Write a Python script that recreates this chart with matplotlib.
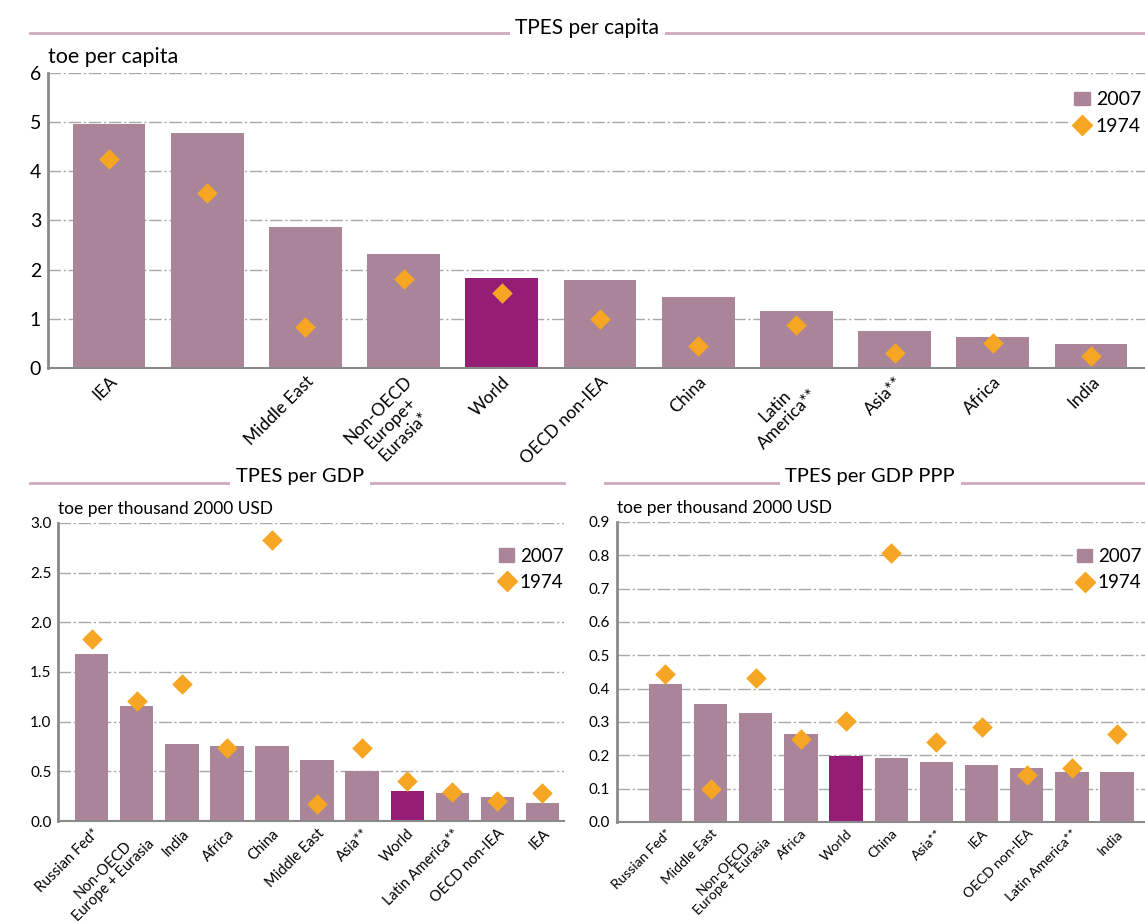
import matplotlib.pyplot as plt
from matplotlib.lines import Line2D
from matplotlib.patches import Patch
import numpy as np

plt.rcParams['font.family'] = ['Lato', 'DejaVu Sans']

# TPES per capita (toe per capita)
cap_labels = ['IEA', '', 'Middle East', 'Non-OECD\nEurope+\nEurasia*', 'World', 'OECD non-IEA',
              'China', 'Latin\nAmerica**', 'Asia**', 'Africa', 'India']
cap_2007 = [4.95, 4.78, 2.86, 2.31, 1.82, 1.78, 1.45, 1.16, 0.76, 0.63, 0.49]
cap_1974 = [4.24, 3.55, 0.84, 1.80, 1.53, 1.00, 0.45, 0.88, 0.31, 0.51, 0.25]

# TPES per GDP (toe per thousand 2000 USD)
gdp_labels = ['Russian Fed*', 'Non-OECD\nEurope + Eurasia', 'India', 'Africa', 'China', 'Middle East',
              'Asia**', 'World', 'Latin America**', 'OECD non-IEA', 'IEA']
gdp_2007 = [1.68, 1.16, 0.78, 0.76, 0.76, 0.61, 0.50, 0.30, 0.28, 0.24, 0.18]
gdp_1974 = [1.83, 1.21, 1.38, 0.74, 2.83, 0.17, 0.74, 0.40, 0.29, 0.20, 0.28]

# TPES per GDP PPP (toe per thousand 2000 USD)
ppp_labels = ['Russian Fed*', 'Middle East', 'Non-OECD\nEurope + Eurasia', 'Africa', 'World', 'China',
              'Asia**', 'IEA', 'OECD non-IEA', 'Latin America**', 'India']
ppp_2007 = [0.415, 0.354, 0.327, 0.264, 0.198, 0.192, 0.180, 0.171, 0.162, 0.150, 0.150]
ppp_1974 = [0.444, 0.100, 0.432, 0.250, 0.303, 0.807, 0.240, 0.285, 0.141, 0.162, 0.264]

bar_c = '#aa8599'
world_c = '#951d76'
dia_c = '#f6a623'
line_c = '#cfa9bd'

fig = plt.figure(figsize=(11.45, 9.22), dpi=100)


def panel(rect, labels, v07, v74, ymax, ystep, yfmt, xlim, unit, lab_fs, ytick_fs, leg_anchor, leg_fs, ls):
    ax = fig.add_axes(rect)
    x = np.arange(len(labels))
    cols = [world_c if l == 'World' else bar_c for l in labels]
    ax.bar(x, v07, width=0.74, color=cols, zorder=2)
    ax.scatter(x, v74, marker='D', s=110, color=dia_c, zorder=3, linewidths=0)
    ax.set_xlim(*xlim)
    ax.set_ylim(0, ymax)
    ticks = np.arange(0, ymax + ystep / 2, ystep)
    ax.set_yticks(ticks)
    ax.set_yticklabels([yfmt.format(t) for t in ticks], fontsize=ytick_fs)
    ax.yaxis.grid(True, color='#a8a8a8', linestyle=(0, (9, 2, 1.5, 2)), linewidth=1.0, zorder=0)
    ax.set_xticks(x)
    ax.set_xticklabels(labels, rotation=45, ha='right', rotation_mode='anchor',
                       fontsize=lab_fs, multialignment='center', linespacing=ls)
    ax.tick_params(length=0, pad=5)
    ax.tick_params(axis='x', pad=4)
    for s in ['top', 'right']:
        ax.spines[s].set_visible(False)
    ax.spines['left'].set_color('#8a8a8a')
    ax.spines['left'].set_linewidth(2)
    ax.spines['bottom'].set_color('#8a8a8a')
    ax.spines['bottom'].set_linewidth(1.5)
    ax.text(0.0, 1.02, unit, transform=ax.transAxes, fontsize=ytick_fs + 1.5, va='bottom', ha='left')
    handles = [Patch(color=bar_c), Line2D([], [], marker='D', color=dia_c, linestyle='none', markersize=10)]
    leg = ax.legend(handles, ['2007', '1974'], loc='upper right', bbox_to_anchor=leg_anchor,
                    frameon=True, fontsize=leg_fs, handlelength=0.8, handletextpad=0.3,
                    borderpad=0.2, labelspacing=0.5, borderaxespad=0)
    leg.get_frame().set_edgecolor('none')
    leg.get_frame().set_facecolor('white')
    leg.get_frame().set_alpha(1)
    return ax


def header(y_line, y_text, x0, x1, xt, text, fs):
    fig.add_artist(Line2D([x0, x1], [y_line, y_line], transform=fig.transFigure, color=line_c, lw=2, zorder=0))
    fig.text(xt, y_text, text, ha='center', va='center', fontsize=fs,
             bbox=dict(facecolor='white', edgecolor='none', pad=4))


panel([0.042, 0.601, 0.958, 0.320], cap_labels, cap_2007, cap_1974, 6, 1, '{:.0f}',
      (-0.62, 10.55), 'toe per capita', 12.5, 14, (1.0, 0.95), 14, 1.2)
panel([0.051, 0.1095, 0.442, 0.3233], gdp_labels, gdp_2007, gdp_1974, 3.0, 0.5, '{:.1f}',
      (-0.74, 10.49), 'toe per thousand 2000 USD', 10.5, 11, (1.005, 0.93), 13.5, 1.05)
panel([0.539, 0.1085, 0.461, 0.3255], ppp_labels, ppp_2007, ppp_1974, 0.9, 0.1, '{:.1f}',
      (-1.07, 10.62), 'toe per thousand 2000 USD', 10, 11, (1.0, 0.925), 13.5, 1.0)

header(0.9645, 0.970, 0.026, 1.0, 0.513, 'TPES per capita', 15)
header(0.4765, 0.483, 0.026, 0.493, 0.262, 'TPES per GDP', 14.5)
header(0.4765, 0.483, 0.528, 1.0, 0.760, 'TPES per GDP PPP', 14.5)

fig.savefig('out.png', dpi=100)
